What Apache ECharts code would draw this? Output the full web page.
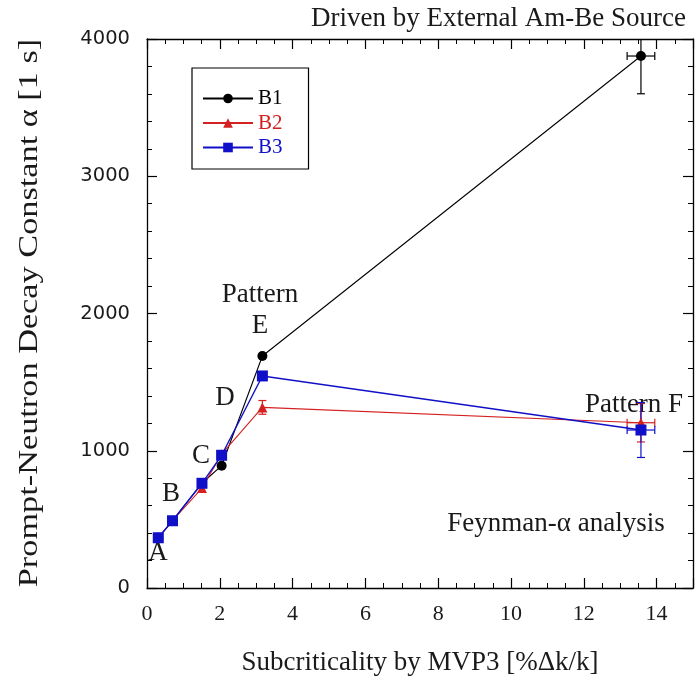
<!DOCTYPE html>
<html><head><meta charset="utf-8">
<script src="https://cdn.jsdelivr.net/npm/echarts@6/dist/echarts.min.js"></script>
<style>html,body{margin:0;padding:0;background:#fff}#c{width:696px;height:692px}</style>
</head><body><div id="c"></div>
<script>
// Data
const seriesNames = ['B1', 'B2', 'B3'];
const seriesColors = ['#000000', '#d42020', '#1010c8'];
const b1X = [0.31, 0.70, 1.51, 2.05, 3.17, 13.57];
const b1Y = [366, 490, 763, 891, 1690, 3876];
const b2X = [0.31, 0.70, 1.51, 2.05, 3.17, 13.57];
const b2Y = [366, 490, 728, 975, 1316, 1204];
const b3X = [0.31, 0.70, 1.51, 2.05, 3.17, 13.57];
const b3Y = [366, 490, 763, 967, 1545, 1151];
const b1Xerr = [0, 0, 0, 0, 0, 0.38];
const b1Yerr = [0, 0, 0, 0, 0, 275];
const b2Xerr = [0, 0, 0, 0, 0, 0.38];
const b2Yerr = [0, 0, 0, 0, 50, 140];
const b3Xerr = [0, 0, 0, 0, 0, 0.38];
const b3Yerr = [0, 0, 0, 0, 0, 200];
const xTicks = [0, 2, 4, 6, 8, 10, 12, 14];
const yTicks = [0, 1000, 2000, 3000, 4000];

const serif = '"Liberation Serif", "Times New Roman", serif';
const sans = '"DejaVu Sans", sans-serif';

function pts(xs, ys) { return xs.map((x, i) => [x, ys[i]]); }
function errs(xs, ys, ex, ey) { return xs.map((x, i) => [x, ys[i], ex[i], ey[i]]); }

function errRender(color) {
  return function (params, api) {
    const x = api.value(0), y = api.value(1), ex = api.value(2), ey = api.value(3);
    const children = [];
    const st = { stroke: color, lineWidth: 1.2 };
    const cap = 4;
    if (ey > 0) {
      const t = api.coord([x, y + ey]), b = api.coord([x, y - ey]);
      children.push({ type: 'line', shape: { x1: t[0], y1: t[1], x2: b[0], y2: b[1] }, style: st });
      children.push({ type: 'line', shape: { x1: t[0] - cap, y1: t[1], x2: t[0] + cap, y2: t[1] }, style: st });
      children.push({ type: 'line', shape: { x1: b[0] - cap, y1: b[1], x2: b[0] + cap, y2: b[1] }, style: st });
    }
    if (ex > 0) {
      const l = api.coord([x - ex, y]), r = api.coord([x + ex, y]);
      children.push({ type: 'line', shape: { x1: l[0], y1: l[1], x2: r[0], y2: r[1] }, style: st });
      children.push({ type: 'line', shape: { x1: l[0], y1: l[1] - cap, x2: l[0], y2: l[1] + cap }, style: st });
      children.push({ type: 'line', shape: { x1: r[0], y1: r[1] - cap, x2: r[0], y2: r[1] + cap }, style: st });
    }
    return { type: 'group', children: children };
  };
}

const chart = echarts.init(document.getElementById('c'), null, { renderer: 'canvas' });
const axisLine = { show: true, onZero: false, lineStyle: { color: '#000', width: 1.3 } };
const majorTick = { show: true, inside: false, length: -10, lineStyle: { color: '#000', width: 1.2 } };
const minorTick = (n) => ({ show: true, splitNumber: n, length: -5, lineStyle: { color: '#000', width: 1 } });

function txt(t, x, y, size, align) {
  return { type: 'text', x: x, y: y, silent: true,
    style: { text: t, font: size + 'px ' + serif, fill: '#1a1a1a', align: align || 'center', verticalAlign: 'middle',
      textAlign: align || 'center', textVerticalAlign: 'middle' } };
}

const option = {
  backgroundColor: '#fff',
  animation: false,
  grid: { left: 147, top: 39, width: 551, height: 549 },
  legend: {
    orient: 'vertical', left: 192, top: 68,
    padding: [20, 26, 11, 10], itemGap: 3.5,
    itemWidth: 50, itemHeight: 12,
    borderColor: '#000', borderWidth: 1.2, backgroundColor: '#fff',
    textStyle: { fontFamily: serif, fontSize: 21 },
    data: seriesNames.map((n, i) => ({ name: n, textStyle: { color: seriesColors[i] } }))
  },
  xAxis: [{
    type: 'value', min: 0, max: 15, interval: 2, position: 'bottom',
    axisLine: axisLine, axisTick: majorTick, minorTick: minorTick(4),
    splitLine: { show: false },
    axisLabel: { fontFamily: serif, fontSize: 22, color: '#1a1a1a', margin: 15,
      formatter: v => xTicks.includes(v) ? String(v) : '' },
    name: 'Subcriticality by MVP3 [%\u0394k/k]', nameLocation: 'middle', nameGap: 61,
    nameTextStyle: { fontFamily: serif, fontSize: 27, color: '#1a1a1a' }
  }, {
    type: 'value', min: 0, max: 15, interval: 2, position: 'top',
    axisLine: axisLine, axisTick: majorTick, minorTick: minorTick(4),
    splitLine: { show: false }, axisLabel: { show: false }
  }],
  yAxis: [{
    type: 'value', min: 0, max: 4000, interval: 1000, position: 'left',
    axisLine: axisLine, axisTick: majorTick, minorTick: minorTick(5),
    splitLine: { show: false },
    axisLabel: { fontFamily: sans, fontSize: 19.5, color: '#1a1a1a', margin: 17,
      formatter: v => yTicks.includes(v) ? String(v) : '' }
  }, {
    type: 'value', min: 0, max: 4000, interval: 1000, position: 'right',
    axisLine: axisLine, axisTick: majorTick, minorTick: minorTick(5),
    splitLine: { show: false }, axisLabel: { show: false }
  }],
  series: [
    { name: 'B1e', type: 'custom', renderItem: errRender(seriesColors[0]), clip: true,
      data: errs(b1X, b1Y, b1Xerr, b1Yerr), z: 2, silent: true },
    { name: 'B2e', type: 'custom', renderItem: errRender(seriesColors[1]), clip: true,
      data: errs(b2X, b2Y, b2Xerr, b2Yerr), z: 2, silent: true },
    { name: 'B3e', type: 'custom', renderItem: errRender(seriesColors[2]), clip: true,
      data: errs(b3X, b3Y, b3Xerr, b3Yerr), z: 2, silent: true },
    { name: 'B1', type: 'line', data: pts(b1X, b1Y), symbol: 'circle', symbolSize: 10,
      color: seriesColors[0], lineStyle: { width: 1.1, color: seriesColors[0] }, z: 3 },
    { name: 'B2', type: 'line', data: pts(b2X, b2Y), symbol: 'triangle', symbolSize: 10,
      color: seriesColors[1], lineStyle: { width: 1.1, color: seriesColors[1] }, z: 4 },
    { name: 'B3', type: 'line', data: pts(b3X, b3Y), symbol: 'rect', symbolSize: 11,
      color: seriesColors[2], lineStyle: { width: 1.4, color: seriesColors[2] }, z: 5 }
  ],
  graphic: [
    txt('Driven by External Am-Be Source', 686, 19, 27, 'right'),
    txt('A', 158, 553, 27),
    txt('B', 171, 494, 27),
    txt('C', 201, 456, 27),
    txt('D', 225, 398, 27),
    txt('Pattern', 260, 295, 27),
    txt('E', 260, 326, 27),
    txt('Pattern F', 634, 405, 27),
    txt('Feynman-\u03b1 analysis', 556, 524, 27),
    { type: 'text', x: 30, y: 313, rotation: Math.PI / 2, scaleX: 1.27, silent: true,
      style: { text: 'Prompt-Neutron Decay Constant \u03b1 [1 s]', font: '27px ' + serif, fill: '#1a1a1a',
        align: 'center', verticalAlign: 'middle', textAlign: 'center', textVerticalAlign: 'middle' } }
  ]
};
chart.setOption(option);
</script></body></html>
